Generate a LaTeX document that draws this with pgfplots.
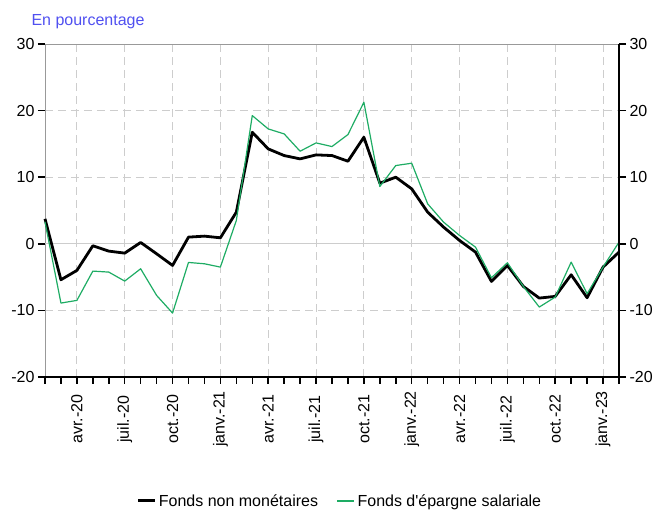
\documentclass[border=0pt]{standalone}
\usepackage{fontspec}
\setmainfont{Liberation Sans}[Ligatures=TeXOff]
\usepackage{pgfplots}
\pgfplotsset{compat=1.18}

\definecolor{fgreen}{RGB}{30,172,100}
\definecolor{tblue}{RGB}{80,80,240}
\definecolor{gridgray}{RGB}{205,205,205}

% months from fev. 2020 (0) to fev. 2023 (36)
\pgfplotstableread{
m  nonmon  epargne
0   3.75    3.3
1  -5.4    -8.9
2  -4.0    -8.5
3  -0.3    -4.1
4  -1.1    -4.25
5  -1.4    -5.6
6   0.2    -3.75
7  -1.5    -7.75
8  -3.25  -10.4
9   1.0    -2.8
10  1.15   -3.0
11  0.9    -3.5
12  4.75    3.5
13 16.75   19.25
14 14.25   17.25
15 13.25   16.5
16 12.75   13.9
17 13.35   15.15
18 13.25   14.6
19 12.4    16.4
20 16.0    21.25
21  9.1     8.6
22 10.0    11.75
23  8.25   12.1
24  4.75    6.0
25  2.5     3.25
26  0.5     1.25
27 -1.25   -0.5
28 -5.65   -5.1
29 -3.25   -2.85
30 -6.4    -6.4
31 -8.15   -9.5
32 -7.9    -8.0
33 -4.65   -2.75
34 -8.1    -7.5
35 -3.5    -3.5
36 -1.25    0.25
}\data

\begin{document}
\begin{tikzpicture}[font=\fontsize{16}{19}\selectfont]
\useasboundingbox (-45pt,-133pt) rectangle (612pt,377pt);

\begin{axis}[
    at={(0,0)}, anchor=south west,
    scale only axis,
    width=574pt, height=333pt,
    xmin=0, xmax=36,
    ymin=-20, ymax=30,
    clip=false,
    axis line style={draw=gray!80, line width=0.8pt},
    tick align=outside,
    major tick length=7pt,
    minor tick length=7pt,
    tick style={black, line width=1.5pt},
    xtick pos=left, ytick pos=left,
    xtick={2,5,...,35},
    minor xtick={0,...,36},
    xticklabels={avr.-20,juil.-20,oct.-20,janv.-21,avr.-21,juil.-21,oct.-21,janv.-22,avr.-22,juil.-22,oct.-22,janv.-23},
    xticklabel style={rotate=90, anchor=center},
    xticklabel shift=35pt,
    ytick={-20,-10,10,20,30},
    yticklabels={-20,-10,10,20,30},
    extra y ticks={0},
    extra y tick labels={0},
    extra y tick style={grid style={solid, gridgray, line width=1pt}},
    xmajorgrids, ymajorgrids,
    grid style={gridgray, line width=0.9pt, dash pattern=on 8pt off 5pt},
    legend columns=2,
    legend style={draw=none, fill=none, at={(0.514,-0.372)}, anchor=center,
      /tikz/every even column/.append style={column sep=16pt}},
    legend image code/.code={\draw[#1] (0pt,0pt) -- (17pt,0pt);},
  ]

  \addlegendimage{black, line width=3pt}
  \addlegendimage{fgreen, line width=2.5pt}

  \addplot[black, line width=2.8pt, line join=round, forget plot] table[x=m, y=nonmon] {\data};
  \addplot[fgreen, line width=1.2pt, line join=round, forget plot] table[x=m, y=epargne] {\data};

  \legend{Fonds non monétaires, Fonds d'épargne salariale}

  \draw[black, line width=1.5pt] (rel axis cs:0,0) -- (rel axis cs:1,0) -- (rel axis cs:1,1);
\end{axis}

\begin{axis}[
    at={(0,0)}, anchor=south west,
    scale only axis,
    width=574pt, height=333pt,
    xmin=0, xmax=36,
    ymin=-20, ymax=30,
    hide x axis,
    y axis line style={draw=none},
    tick align=outside,
    major tick length=7pt,
    tick style={black, line width=1.5pt},
    ytick pos=right, yticklabel pos=right,
    ytick={-20,-10,0,10,20,30},
    yticklabels={-20,-10,0,10,20,30},
  ]
\end{axis}

\node[anchor=base west, text=tblue] at (-17pt,351pt) {En pourcentage};
\end{tikzpicture}
\end{document}
